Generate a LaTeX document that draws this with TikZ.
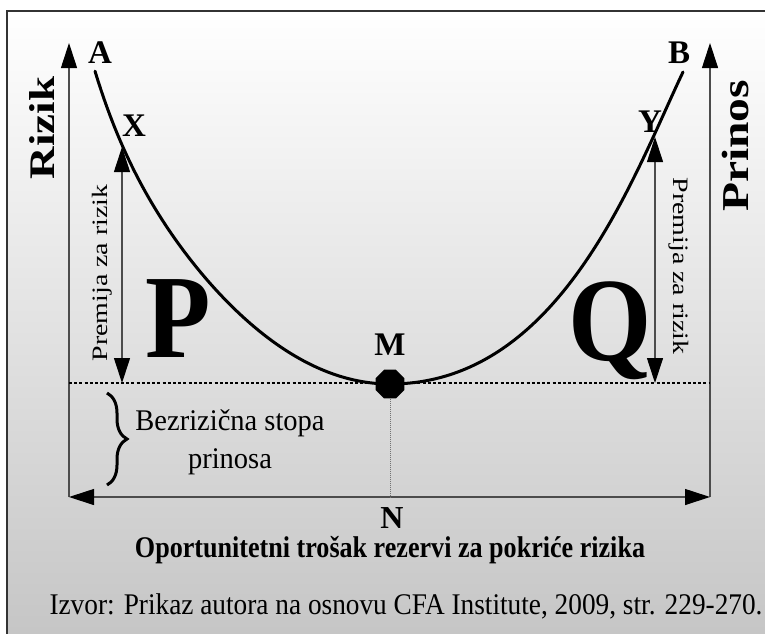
\documentclass[tikz,border=0pt]{standalone}
\usepackage{fontspec}
\setmainfont{Liberation Serif}
\usepackage{graphicx}
\usetikzlibrary{arrows.meta,shapes.geometric,decorations.pathreplacing}
\begin{document}
\begin{tikzpicture}[x=1pt,y=-1pt,
  axisline/.style={draw=black!70,line width=1.1pt},
  headtip/.tip={Triangle[width=16pt,length=25pt,color=black]},
  dotline/.style={draw=black,line width=1.8pt,dash pattern=on 3pt off 2.2pt},
  curveline/.style={draw=black,line width=3pt,line cap=round},
  letter/.style={inner sep=0pt,font=\fontsize{33}{36}\selectfont\bfseries},
  bigletter/.style={inner sep=0pt,anchor=base,font=\fontsize{119}{119}\selectfont\bfseries},
  premlabel/.style={inner sep=0pt,font=\fontsize{22}{26}\selectfont},
  plain/.style={inner sep=0pt,anchor=base}]
\useasboundingbox (0,0) rectangle (765,633);
\clip (0,0) rectangle (765,633);
\shade[top color=white,bottom color=black!23] (7,11) rectangle (790,650);
\draw[black!80,line width=1.5pt] (7,660) -- (7,11) -- (790,11);

% axes
\coordinate (L0) at (69,497);
\coordinate (Ltop) at (69,43);
\coordinate (R0) at (710,497);
\coordinate (Rtop) at (710,43);
\draw[axisline,-headtip] (L0) -- (Ltop);
\draw[axisline,-headtip] (R0) -- (Rtop);
\draw[axisline,headtip-headtip] (L0) -- (R0);

% risk-free line
\coordinate (D1) at (69,383);
\coordinate (D2) at (710,383);
\draw[dotline] (D1) -- (D2);

% curve A - M - B
\coordinate (Mc) at (390,384);
\coordinate (Bc) at (683,72);
\draw[curveline] plot[domain=-2.95:0,samples=90,smooth] ({390+100*\x},{384-31*\x*\x-(0.2439*\x*\x)^5}) .. controls (560,384) and (633,177) .. (Bc);

% M point
\node[regular polygon,regular polygon sides=8,fill=black,minimum size=31pt,inner sep=0pt] (M) at (Mc) {};
\node[letter] (Mlab) at (390,345) {M};
\coordinate (Nb) at (390,497);
\draw[black!55,line width=1pt,dash pattern=on 1pt off 1pt] (M.south) -- (Nb);

% premium arrows
\coordinate (Xt) at (122,147);
\coordinate (Xb) at (122,383);
\coordinate (Yt) at (655,137);
\coordinate (Yb) at (655,383);
\draw[axisline,headtip-headtip] (Xt) -- (Xb);
\draw[axisline,headtip-headtip] (Yt) -- (Yb);
\node[premlabel,rotate=90] (premL) at (102,273) {\scalebox{1.27}[1]{Premija za rizik}};
\node[premlabel,rotate=-90] (premR) at (679,266) {\scalebox{1.27}[1]{Premija za rizik}};

% letters
\node[letter] (A) at (100,52.5) {A};
\node[letter] (B) at (679,53) {B};
\node[letter] (X) at (134,126) {X};
\node[letter] (Y) at (650,122) {Y};
\node[bigletter] (P) at (178,357) {\scalebox{0.9}[1]{P}};
\node[bigletter] (Q) at (610,360) {\scalebox{0.9}[1]{Q}};

% axis titles
\node[inner sep=0pt,rotate=90,font=\fontsize{36}{40}\selectfont\bfseries] (riz) at (42,128) {\scalebox{1.25}[1]{Rizik}};
\node[inner sep=0pt,rotate=90,font=\fontsize{38}{42}\selectfont\bfseries] (prin) at (735,146) {\scalebox{1.25}[1]{Prinos}};

% brace and risk-free text
\coordinate (br1) at (107,393);
\coordinate (br2) at (107,485);
\draw[black,line width=3pt,decorate,decoration={brace,amplitude=20pt}] (br1) -- (br2);
\node[plain,font=\fontsize{30}{34}\selectfont] (bz1) at (230,430) {\scalebox{0.95}[1]{Bezrizična stopa}};
\node[plain,font=\fontsize{30}{34}\selectfont] (bz2) at (230,468) {\scalebox{0.95}[1]{prinosa}};

% bottom texts
\node[letter,font=\fontsize{32}{36}\selectfont\bfseries] (N) at (392,518.5) {N};
\node[plain,font=\fontsize{30}{36}\selectfont\bfseries] (opp) at (390,557) {\scalebox{0.87}[1]{Oportunitetni trošak rezervi za pokriće rizika}};
\node[plain,font=\fontsize{30}{34}\selectfont] (izv) at (406,614) {\scalebox{0.91}[1]{Izvor: Prikaz autora na osnovu CFA Institute, 2009, str. 229-270.}};
\end{tikzpicture}
\end{document}
